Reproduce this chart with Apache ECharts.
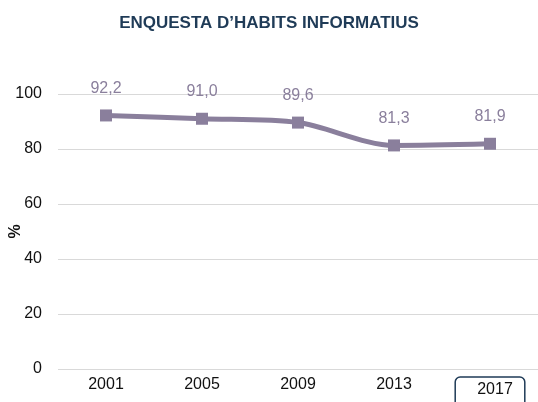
<!DOCTYPE html>
<html>
<head>
<meta charset="utf-8">
<script src="https://cdn.jsdelivr.net/npm/echarts@6/dist/echarts.min.js"></script>
<style>
  html, body { margin: 0; padding: 0; background: #fff; }
  #chart { width: 538px; height: 402px; }
</style>
</head>
<body>
<div id="chart"></div>
<script>
// dades de l'enquesta
const years = ['2001', '2005', '2009', '2013', '2017'];
const values = [92.2, 91.0, 89.6, 81.3, 81.9];
const yTicks = [0, 20, 40, 60, 80, 100];

const chart = echarts.init(document.getElementById('chart'));
chart.setOption({
  animation: false,
  title: {
    text: 'ENQUESTA D\u2019HABITS INFORMATIUS',
    left: 'center',
    top: 10,
    textStyle: { fontFamily: 'Liberation Sans', fontSize: 17, fontWeight: 'bold', color: '#1f3b57' }
  },
  grid: { left: 58, right: 0, top: 94, bottom: 33, outerBoundsMode: 'none', containLabel: false },
  xAxis: {
    type: 'category',
    data: years,
    axisLine: { show: false },
    axisTick: { show: false },
    axisLabel: {
      interval: 0,
      fontFamily: 'Liberation Sans', fontSize: 16, color: '#111', margin: 8,
      formatter: v => v === years[years.length - 1] ? '{box|' + v + '}' : v,
      rich: {
        box: {
          fontFamily: 'Liberation Sans', fontSize: 16, color: '#111',
          borderColor: '#1f3b57', borderWidth: 1.5, borderRadius: 5,
          padding: [5, 12, 10, 22]
        }
      }
    }
  },
  yAxis: {
    type: 'value',
    min: yTicks[0],
    max: yTicks[yTicks.length - 1],
    interval: 20,
    name: '%',
    nameLocation: 'middle',
    nameGap: 34,
    nameRotate: 90,
    nameMoveOverlap: false,
    nameTextStyle: { fontFamily: 'Liberation Sans', fontSize: 16, fontWeight: 'bold', color: '#111' },
    axisLabel: { fontFamily: 'Liberation Sans', fontSize: 16, color: '#111', margin: 16 },
    splitLine: { lineStyle: { color: '#d9d9d9', width: 1 } }
  },
  series: [{
    type: 'line',
    data: values,
    smooth: 0.3,
    symbol: 'rect',
    symbolSize: 12,
    lineStyle: { color: '#8a7f9c', width: 5 },
    itemStyle: { color: '#8a7f9c' },
    label: {
      show: true,
      position: 'top',
      distance: 13,
      fontFamily: 'Liberation Sans',
      fontSize: 16,
      color: '#8a7f9c',
      formatter: p => p.value.toFixed(1).replace('.', ',')
    }
  }]
});
</script>
</body>
</html>
